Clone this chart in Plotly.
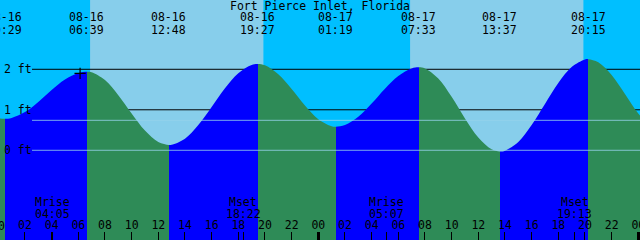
import plotly.graph_objects as go

# ---------------- data ----------------
title = "Fort Pierce Inlet, Florida"
# hourly tide heights (ft), hour 0 = 08-16 00:00
hours = list(range(0, 50))
heights = [0.79, 0.80, 0.945, 1.195, 1.487, 1.747, 1.909, 1.926, 1.733, 1.362,
           0.908, 0.487, 0.204, 0.135, 0.287, 0.623, 1.071, 1.532, 1.905, 2.108,
           2.097, 1.878, 1.514, 1.104, 0.765, 0.591, 0.623, 0.829, 1.156, 1.522,
           1.837, 2.022, 2.022, 1.771, 1.319, 0.787, 0.314, 0.023, -0.011, 0.206,
           0.623, 1.146, 1.661, 2.056, 2.242, 2.173, 1.857, 1.388, 0.907, 0.561]
# high / low tide events
tide_dates = ["08-16", "08-16", "08-16", "08-16", "08-17", "08-17", "08-17", "08-17"]
tide_times = ["00:29", "06:39", "12:48", "19:27", "01:19", "07:33", "13:37", "20:15"]
tide_heights = [0.78, 1.94, 0.13, 2.13, 0.58, 2.05, -0.03, 2.25]
# moon events
moon_labels = ["Mrise", "Mset", "Mrise", "Mset"]
moon_dates = ["08-16", "08-16", "08-17", "08-17"]
moon_times = ["04:05", "18:22", "05:07", "19:13"]
# daylight
sun_dates = ["08-16", "08-17"]
sunrise_times = ["06:53", "06:53"]
sunset_times = ["19:53", "19:53"]
# reference levels
level_labels = ["2 ft", "1 ft", "0 ft"]
level_values = [2, 1, 0]
mean_level = 0.74
# current-time marker
now_date, now_time, now_height = "08-16", "06:08", 1.90
hour_ticks = list(range(0, 49, 2))

# ---------------- helpers ----------------
day0 = "08-16"


def to_hours(date, hm):
    d = int(date.split("-")[1]) - int(day0.split("-")[1])
    h, m = hm.split(":")
    return d * 24 + int(h) + int(m) / 60.0


tide_hours = [to_hours(d, t) for d, t in zip(tide_dates, tide_times)]
moon_hours = [to_hours(d, t) for d, t in zip(moon_dates, moon_times)]
rise_hours = [to_hours(d, t) for d, t in zip(sun_dates, sunrise_times)]
set_hours = [to_hours(d, t) for d, t in zip(sun_dates, sunset_times)]
now_hours = to_hours(now_date, now_time)

pts = sorted(list(zip(hours, heights)) + list(zip(tide_hours, tide_heights)))
xs = [p[0] for p in pts]
ys = [p[1] for p in pts]

# ---------------- styling ----------------
W, H = 640, 240
X_RANGE = [0.1275, 48.1275]
Y_RANGE = [-2.215, 3.711]
NIGHT = "#00BFFF"
DAY = "#87CEEB"
RISE = "#0000FF"
FALL = "#2E8B57"
FONT = dict(family="DejaVu Sans Mono", size=11.5, color="black")


def py(pix):
    return 1 - pix / H


def px_paper(h):
    return (h - X_RANGE[0]) / (X_RANGE[1] - X_RANGE[0])


# gradient stops: rising blue, falling green
bounds = [hours[0]] + tide_hours + [hours[-1]]
span = hours[-1] - hours[0]
stops = []
for i in range(len(bounds) - 1):
    if 0 < i < len(tide_hours):
        col = RISE if tide_heights[i] > tide_heights[i - 1] else FALL
    elif i == 0:
        col = FALL if tide_heights[0] < tide_heights[1] else RISE
    else:
        col = FALL if tide_heights[-1] > tide_heights[-2] else RISE
    stops.append([(bounds[i] - hours[0]) / span, col])
    stops.append([(bounds[i + 1] - hours[0]) / span, col])

fig = go.Figure()
fig.add_trace(go.Scatter(x=[hours[0], hours[-1]], y=[Y_RANGE[0], Y_RANGE[0]],
                         mode="lines", line=dict(width=0), hoverinfo="skip",
                         showlegend=False))
fig.add_trace(go.Scatter(x=xs, y=ys, mode="lines",
                         line=dict(width=0, shape="spline"),
                         fill="tonexty",
                         fillgradient=dict(type="horizontal", colorscale=stops,
                                           start=hours[0], stop=hours[-1]),
                         hoverinfo="skip", showlegend=False))
fig.add_trace(go.Scatter(x=[now_hours], y=[now_height], mode="markers",
                         marker=dict(symbol="cross-thin", size=8,
                                     line=dict(width=1.2, color="black")),
                         showlegend=False, hoverinfo="skip"))
# helper traces for extra tick axes
fig.add_trace(go.Scatter(x=[24], y=[Y_RANGE[0]], xaxis="x2", mode="markers",
                         marker=dict(opacity=0), showlegend=False, hoverinfo="skip"))
fig.add_trace(go.Scatter(x=moon_hours, y=[Y_RANGE[0]] * len(moon_hours), xaxis="x3",
                         mode="markers", marker=dict(opacity=0),
                         showlegend=False, hoverinfo="skip"))

shapes = []
for r, s in zip(rise_hours, set_hours):
    shapes.append(dict(type="rect", xref="x", yref="paper", x0=r, x1=s, y0=0, y1=1,
                       fillcolor=DAY, line=dict(width=0), layer="below"))
for v in level_values:
    if v != 0:
        shapes.append(dict(type="line", xref="paper", yref="y", x0=32 / W, x1=1,
                           y0=v, y1=v, line=dict(color="black", width=1), layer="below"))
for v in [0, mean_level]:
    shapes.append(dict(type="line", xref="paper", yref="y", x0=32 / W, x1=1,
                       y0=v, y1=v, line=dict(color="rgba(150,210,235,0.8)", width=1),
                       layer="above"))

ann = [dict(text=title, x=0.5, xref="paper", y=py(5.5), yref="paper",
            showarrow=False, font=FONT, xanchor="center", yanchor="middle")]
for th, d, t in zip(tide_hours, tide_dates, tide_times):
    ann.append(dict(text=d, x=th, xref="x", y=py(17), yref="paper", showarrow=False,
                    font=FONT, xanchor="center", yanchor="middle"))
    ann.append(dict(text=t, x=th, xref="x", y=py(29.7), yref="paper", showarrow=False,
                    font=FONT, xanchor="center", yanchor="middle"))
for lab, v in zip(level_labels, level_values):
    ann.append(dict(text=lab, x=2 / W, xref="paper", y=v, yref="y", showarrow=False,
                    font=FONT, xanchor="left", yanchor="middle"))
for mh, lab, t in zip(moon_hours, moon_labels, moon_times):
    ann.append(dict(text=lab, x=mh, xref="x", y=py(202), yref="paper", showarrow=False,
                    font=FONT, xanchor="center", yanchor="middle"))
    ann.append(dict(text=t, x=mh, xref="x", y=py(213.8), yref="paper", showarrow=False,
                    font=FONT, xanchor="center", yanchor="middle"))
# first hour label lies just left of the visible range (only half shows)
ann.append(dict(text=f"{hour_ticks[0] % 24:02d}", x=px_paper(hour_ticks[0]),
                xref="paper", y=py(225.5), yref="paper", showarrow=False, font=FONT,
                xanchor="center", yanchor="middle"))

axis_common = dict(range=X_RANGE, showgrid=False, zeroline=False, showline=False,
                   ticks="inside", ticklen=8, tickcolor="black", automargin=False)
fig.update_layout(
    width=W, height=H, margin=dict(l=0, r=0, t=0, b=0, autoexpand=False),
    paper_bgcolor=NIGHT, plot_bgcolor=NIGHT,
    showlegend=False,
    xaxis=dict(**axis_common, tickwidth=1, tickmode="array", tickvals=hour_ticks,
               ticktext=[f"{h % 24:02d}" for h in hour_ticks],
               ticklabelposition="inside", ticklabeloverflow="allow",
               tickfont=FONT),
    xaxis2=dict(**axis_common, overlaying="x", anchor="y", side="bottom",
                tickwidth=3, tickmode="array", tickvals=[24, 48],
                showticklabels=False),
    xaxis3=dict(**axis_common, overlaying="x", anchor="y", side="bottom",
                tickwidth=1, tickmode="array", tickvals=moon_hours,
                showticklabels=False),
    yaxis=dict(range=Y_RANGE, visible=False, fixedrange=True, automargin=False),
    shapes=shapes, annotations=ann,
)
fig.write_html("out.html")
